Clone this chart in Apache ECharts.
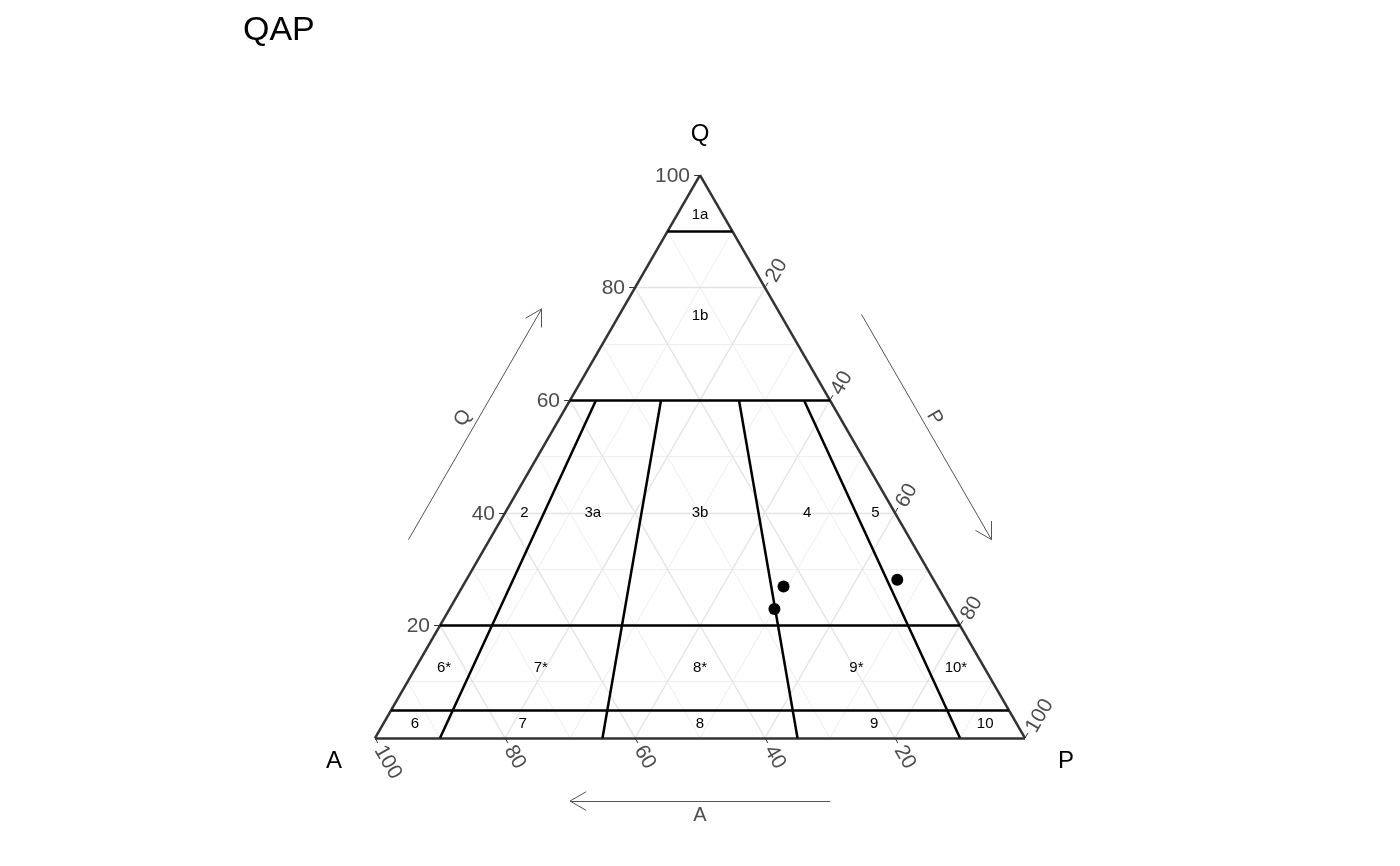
<!DOCTYPE html>
<html><head><meta charset="utf-8">
<script src="https://cdn.jsdelivr.net/npm/echarts@6/dist/echarts.min.js"></script>
<style>html,body{margin:0;padding:0;background:#fff}#c{width:1400px;height:866px}</style>
</head><body><div id="c"></div>
<script>
// ---------------- data ----------------
const chartTitle = 'QAP';
const vertexNames = ['Q', 'A', 'P'];
const tickValues = [20, 40, 60, 80, 100];
const tickLabels = ['20', '40', '60', '80', '100'];
const minorGrid = [10, 30, 50, 70, 90];
const majorGrid = [20, 40, 60, 80];
// Streckeisen QAP field boundaries
const qLevels = [90, 60, 20, 5];            // Q % horizontal boundaries
const ratioLines = [10, 35, 65, 90];        // P/(A+P) % boundaries, below Q = 60
const ratioTopQ = 60;
// field labels: name, Q %, P/(A+P) %
const regionNames = ['1a', '1b', '2', '3a', '3b', '4', '5', '6*', '7*', '8*', '9*', '10*', '6', '7', '8', '9', '10'];
const regionQ = [93, 75, 40, 40, 40, 40, 40, 12.5, 12.5, 12.5, 12.5, 12.5, 2.5, 2.5, 2.5, 2.5, 2.5];
const regionRatio = [50, 50, 5, 22.5, 50, 77.5, 95, 5, 22, 50, 77.5, 95, 5, 22, 50, 77.5, 95];
// samples (Q, A, P in %)
const sampleQ = [26.9, 22.9, 28.1];
const sampleA = [23.7, 27.1, 5.6];
const sampleP = [49.4, 50.0, 66.3];

// ---------------- geometry helpers ----------------
const S3 = Math.sqrt(3) / 2;
function tern(q, a, p) { const s = q + a + p; q /= s; a /= s; p /= s; return [p + q / 2, q * S3]; }
const VQ = tern(100, 0, 0), VA = tern(0, 100, 0), VP = tern(0, 0, 100);
const FONT = '"Liberation Sans", Helvetica, Arial, sans-serif';

function seg(a, b) { return { coords: [a, b] }; }

const minorLines = [], majorLines = [];
function gridFor(k, arr) {
  arr.push(seg(tern(k, 100 - k, 0), tern(k, 0, 100 - k)));
  arr.push(seg(tern(100 - k, k, 0), tern(0, k, 100 - k)));
  arr.push(seg(tern(100 - k, 0, k), tern(0, 100 - k, k)));
}
minorGrid.forEach(k => gridFor(k, minorLines));
majorGrid.forEach(k => gridFor(k, majorLines));

const frameLines = [seg(VA, VP), seg(VP, VQ), seg(VQ, VA)];

const boundaryLines = [];
qLevels.forEach(q => boundaryLines.push(seg(tern(q, 100 - q, 0), tern(q, 0, 100 - q))));
ratioLines.forEach(r => {
  const rest = 100 - ratioTopQ;
  boundaryLines.push(seg(tern(ratioTopQ, rest * (1 - r / 100), rest * r / 100), tern(0, 100 - r, r)));
});

// ticks (short marks outward along the grid-line direction)
const TL = 0.009;
const tickLines = [];
tickValues.forEach(k => {
  const pq = tern(k, 100 - k, 0); tickLines.push(seg(pq, [pq[0] - TL, pq[1]]));
  const pp = tern(100 - k, 0, k); tickLines.push(seg(pp, [pp[0] + TL * 0.5, pp[1] + TL * S3]));
  const pa = tern(0, k, 100 - k); tickLines.push(seg(pa, [pa[0] + TL * 0.5, pa[1] - TL * S3]));
});

// direction arrows beside each edge
function edgePoint(from, to, t, d) {
  const dx = to[0] - from[0], dy = to[1] - from[1];
  const L = Math.hypot(dx, dy); const ux = dx / L, uy = dy / L;
  const nx = -uy, ny = ux; // outward normal (edges go clockwise)
  return [from[0] + ux * t * L + nx * d, from[1] + uy * t * L + ny * d];
}
const arrowLines = [];
function arrow(from, to, t0, t1, d) {
  const s = edgePoint(from, to, t0, d), e = edgePoint(from, to, t1, d);
  arrowLines.push(seg(s, e));
  const dx = e[0] - s[0], dy = e[1] - s[1]; const L = Math.hypot(dx, dy);
  const ux = dx / L, uy = dy / L; const al = 0.0286, c = Math.cos(Math.PI / 6), sn = Math.sin(Math.PI / 6);
  arrowLines.push(seg(e, [e[0] - al * (c * ux - sn * uy), e[1] - al * (c * uy + sn * ux)]));
  arrowLines.push(seg(e, [e[0] - al * (c * ux + sn * uy), e[1] - al * (c * uy - sn * ux)]));
}
// Q edge: A -> Q ; P edge: Q -> P ; A edge: P -> A
arrow(VA, VQ, 0.29, 0.70, 0.108);
arrow(VQ, VP, 0.31, 0.71, 0.108);
arrow(VP, VA, 0.30, 0.70, 0.097);

// texts
const textItems = [];
regionNames.forEach((n, i) => {
  const q = regionQ[i], r = regionRatio[i] / 100, rest = 100 - q;
  textItems.push({ pos: tern(q, rest * (1 - r), rest * r), text: n, dx: 0, dy: 0, rot: 0, align: 'center', va: 'middle', size: 15, color: '#000' });
});
tickValues.forEach((k, i) => {
  textItems.push({ pos: tern(k, 100 - k, 0), text: tickLabels[i], dx: -10, dy: 1, rot: 0, align: 'right', va: 'middle', size: 21, color: '#4d4d4d' });
  textItems.push({ pos: tern(100 - k, 0, k), text: tickLabels[i], dx: 6, dy: -7, rot: 60, align: 'left', va: 'middle', size: 21, color: '#4d4d4d' });
  textItems.push({ pos: tern(0, k, 100 - k), text: tickLabels[i], dx: 4, dy: 9, rot: -60, align: 'left', va: 'middle', size: 21, color: '#4d4d4d' });
});
textItems.push({ pos: VQ, text: vertexNames[0], dx: 0, dy: -41, rot: 0, align: 'center', va: 'middle', size: 24, color: '#000' });
textItems.push({ pos: VA, text: vertexNames[1], dx: -41, dy: 23, rot: 0, align: 'center', va: 'middle', size: 24, color: '#000' });
textItems.push({ pos: VP, text: vertexNames[2], dx: 41, dy: 23, rot: 0, align: 'center', va: 'middle', size: 24, color: '#000' });
textItems.push({ pos: edgePoint(VA, VQ, 0.494, 0.129), text: vertexNames[0], dx: 0, dy: 0, rot: 60, align: 'center', va: 'middle', size: 20, color: '#4d4d4d' });
textItems.push({ pos: edgePoint(VQ, VP, 0.504, 0.126), text: vertexNames[2], dx: 0, dy: 0, rot: -60, align: 'center', va: 'middle', size: 20, color: '#4d4d4d' });
textItems.push({ pos: edgePoint(VP, VA, 0.5, 0.1185), text: vertexNames[1], dx: 0, dy: 0, rot: 0, align: 'center', va: 'middle', size: 20, color: '#4d4d4d' });

const samples = sampleQ.map((q, i) => tern(q, sampleA[i], sampleP[i]));

// ---------------- chart ----------------
const U = 650; // px per unit side
const chart = echarts.init(document.getElementById('c'), null, { renderer: 'canvas' });
function linesSeries(data, color, width, z) {
  return { type: 'lines', coordinateSystem: 'cartesian2d', data, silent: true, z, animation: false,
    lineStyle: { color, width, opacity: 1, curveness: 0 }, symbol: 'none' };
}
chart.setOption({
  animation: false,
  backgroundColor: '#fff',
  title: { text: chartTitle, left: 243, top: 14, padding: 0, textStyle: { fontSize: 34, fontWeight: 'normal', color: '#000', fontFamily: FONT } },
  grid: { left: 0, right: 0, top: 0, bottom: 0 },
  xAxis: { type: 'value', min: -375 / U, max: 1025 / U, show: false },
  yAxis: { type: 'value', min: -128 / U, max: 738 / U, show: false },
  series: [
    linesSeries(minorLines, '#eeeeee', 1, 1),
    linesSeries(majorLines, '#e4e4e4', 1.4, 2),
    linesSeries(frameLines, '#333333', 2.5, 4),
    linesSeries(tickLines, '#333333', 1, 4),
    linesSeries(boundaryLines, '#000000', 2.5, 5),
    linesSeries(arrowLines, '#555555', 1, 3),
    { type: 'scatter', data: samples, symbol: 'circle', symbolSize: 12, itemStyle: { color: '#000', opacity: 1 }, z: 6, silent: true },
    { type: 'custom', data: textItems.map(t => t.pos), clip: false, silent: true, z: 7,
      renderItem: (params, api) => {
        const t = textItems[params.dataIndex];
        const c = api.coord(t.pos);
        return { type: 'text', x: c[0] + t.dx, y: c[1] + t.dy, rotation: t.rot * Math.PI / 180,
          style: { text: t.text, fill: t.color, fontSize: t.size, fontFamily: FONT, align: t.align, verticalAlign: t.va } };
      } }
  ]
});
</script></body></html>
